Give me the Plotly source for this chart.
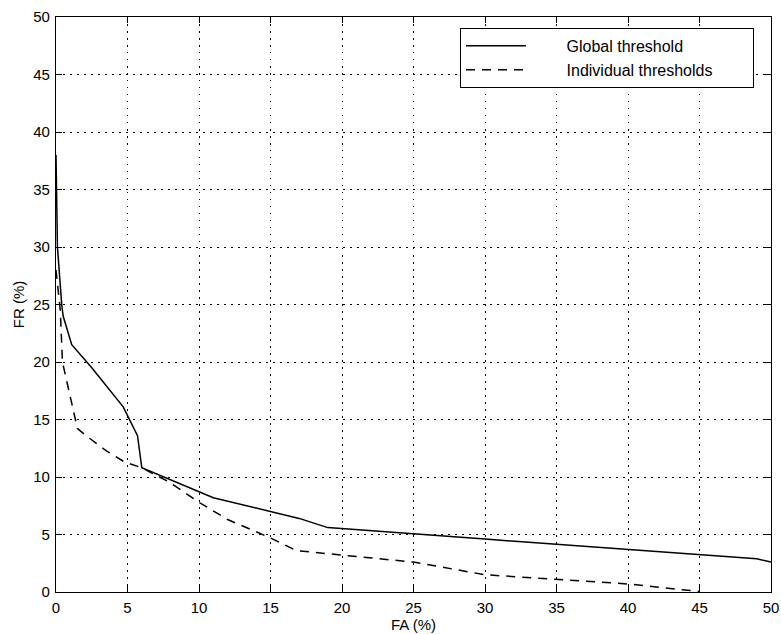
import plotly.graph_objects as go

# Global threshold curve (solid)
global_fa = [0, 0.1, 0.4, 0.5, 1.1, 2.5, 4.7, 5.7, 6.0, 11.0, 17.0, 19.0, 30.0, 42.0, 49.0, 50.0]
global_fr = [38, 30, 25, 24, 21.5, 19.5, 16.1, 13.6, 10.8, 8.2, 6.4, 5.6, 4.6, 3.5, 2.9, 2.6]

# Individual thresholds curve (dashed)
indiv_fa = [0, 0.3, 0.45, 0.9, 1.5, 2.2, 3.5, 4.8, 6.0, 8.0, 10.0, 12.0, 15.0, 16.8, 20.0, 25.0, 30.0, 35.0, 40.0, 42.2, 45.0]
indiv_fr = [28, 24.5, 20, 17.5, 14.2, 13.5, 12.3, 11.3, 10.8, 9.5, 7.8, 6.3, 4.7, 3.6, 3.2, 2.6, 1.5, 1.1, 0.7, 0.4, 0.05]

tick_vals = [0, 5, 10, 15, 20, 25, 30, 35, 40, 45, 50]
tick_text = [str(v) for v in tick_vals]

NB = "\u00a0"
fig = go.Figure()
fig.add_trace(go.Scatter(x=global_fa, y=global_fr, mode="lines",
                         name=NB * 8 + "Global threshold",
                         line=dict(color="black", width=1.5)))
fig.add_trace(go.Scatter(x=indiv_fa, y=indiv_fr, mode="lines",
                         name=NB * 8 + "Individual thresholds" + NB * 8,
                         line=dict(color="black", width=1.5, dash="9px,7px")))

axis_common = dict(
    range=[0, 50], tickvals=tick_vals, ticktext=tick_text,
    showline=True, linecolor="black", linewidth=1.2, mirror="ticks",
    ticks="inside", ticklen=6, tickcolor="black", tickwidth=1.2,
    showgrid=True, gridcolor="black", gridwidth=1, griddash="1.5px,5.5px",
    zeroline=False, tickfont=dict(size=15, color="black"), automargin=False,
)

fig.update_layout(
    width=781, height=634,
    margin=dict(l=56, r=10, t=17, b=42),
    paper_bgcolor="white", plot_bgcolor="white",
    font=dict(family="Liberation Sans, Arial, sans-serif", color="black"),
    xaxis=dict(**axis_common, ticklabelstandoff=2,
               title=dict(text="FA (%)", font=dict(size=15), standoff=0)),
    yaxis=dict(**axis_common, ticklabelstandoff=2,
               title=dict(text="FR (%)", font=dict(size=15), standoff=4)),
    legend=dict(x=0.565, y=0.981, xanchor="left", yanchor="top",
                bgcolor="white", bordercolor="black", borderwidth=1,
                font=dict(size=16, color="black"), itemwidth=60,
                tracegroupgap=0),
    showlegend=True,
)

# remove the default page margin so the figure fills the window exactly
fig.write_html("out.html",
               config={"displayModeBar": False},
               post_script="document.body.style.margin='0';document.body.style.overflow='hidden';")
